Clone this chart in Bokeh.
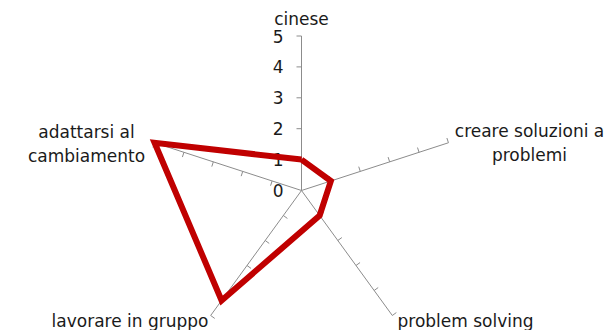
import math
from bokeh.plotting import figure
from bokeh.models import Range1d
from bokeh.core.properties import value
from bokeh.embed import file_html
from bokeh.resources import INLINE

# ---- data ----
categories = ["cinese", "creare soluzioni a\nproblemi", "problem solving",
              "lavorare in gruppo", "adattarsi al\ncambiamento"]
scores = [1, 1, 1, 4.4, 5]
tick_values = [0, 1, 2, 3, 4, 5]
tick_labels = ["0", "1", "2", "3", "4", "5"]
max_value = 5

# ---- style ----
FONT = "DejaVu Sans"
TEXT_COLOR = "#1a1a1a"
AXIS_COLOR = "#8c8c8c"
RED = "#C00000"
R = 30.9  # pixels per unit
CX, CY = 301, 190  # centre in picture px
W, H = 609, 330

p = figure(width=W, height=H, output_backend="svg", toolbar_location=None,
           x_range=Range1d(-CX, W - CX), y_range=Range1d(CY - H, CY),
           min_border=0, x_axis_location=None, y_axis_location=None)
p.grid.visible = False
p.outline_line_color = None
p.background_fill_color = "white"
p.border_fill_color = "white"

n = len(categories)
angles = [math.pi / 2 - 2 * math.pi * i / n for i in range(n)]
dirs = [(math.cos(a), math.sin(a)) for a in angles]

# spokes
p.segment(x0=[0] * n, y0=[0] * n,
          x1=[d[0] * max_value * R for d in dirs], y1=[d[1] * max_value * R for d in dirs],
          line_color=AXIS_COLOR, line_width=1)

# tick marks (perpendicular, counter-clockwise side)
TL = 5
tx0, ty0, tx1, ty1 = [], [], [], []
for dx, dy in dirs:
    px, py = -dy, dx
    for v in tick_values[1:]:
        bx, by = dx * v * R, dy * v * R
        tx0.append(bx); ty0.append(by)
        tx1.append(bx + px * TL); ty1.append(by + py * TL)
p.segment(x0=tx0, y0=ty0, x1=tx1, y1=ty1, line_color=AXIS_COLOR, line_width=1)

# value labels on first spoke
p.text(x=[-18] * len(tick_values), y=[v * R for v in tick_values], text=tick_labels,
       text_align="right", text_baseline="middle", text_font=value(FONT),
       text_font_size="17px", text_color=TEXT_COLOR)

# series polygon
xs = [dirs[i][0] * scores[i] * R for i in range(n)]
ys = [dirs[i][1] * scores[i] * R for i in range(n)]
p.line(x=xs + xs[:1], y=ys + ys[:1], line_color=RED, line_width=6, line_join="miter")

# category labels
lab_x = [0, 228, 96, -93, -215]
lab_y = [172, 48, -130, -130, 47]
lab_align = ["center", "center", "left", "right", "center"]
for t, x, y, a in zip(categories, lab_x, lab_y, lab_align):
    p.text(x=[x], y=[y], text=[t], text_align=a, text_baseline="middle",
           text_font=value(FONT), text_font_size="17px", text_color=TEXT_COLOR,
           text_line_height=1.2)

open("out.html", "w").write(file_html(p, INLINE))
